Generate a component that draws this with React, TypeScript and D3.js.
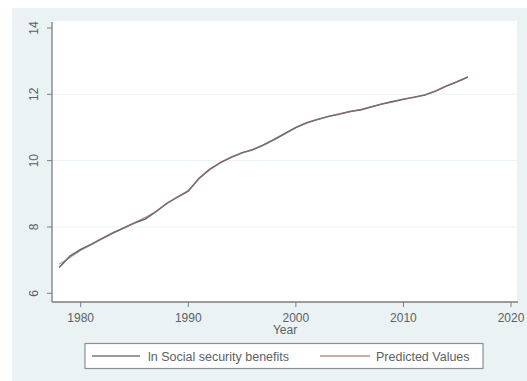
import React from "react";
import * as d3 from "d3";

const years: number[] = [
  1978, 1979, 1980, 1981, 1982, 1983, 1984, 1985, 1986, 1987, 1988, 1989, 1990,
  1991, 1992, 1993, 1994, 1995, 1996, 1997, 1998, 1999, 2000, 2001, 2002, 2003,
  2004, 2005, 2006, 2007, 2008, 2009, 2010, 2011, 2012, 2013, 2014, 2015, 2016,
];
const lnBenefits: number[] = [
  6.78, 7.12, 7.32, 7.48, 7.65, 7.82, 7.97, 8.12, 8.24, 8.46, 8.71, 8.9, 9.08,
  9.47, 9.74, 9.94, 10.1, 10.24, 10.33, 10.47, 10.64, 10.82, 11.0, 11.14, 11.24,
  11.33, 11.4, 11.48, 11.53, 11.62, 11.71, 11.78, 11.85, 11.91, 11.98, 12.1,
  12.25, 12.38, 12.52,
];
const predicted: number[] = [
  6.88, 7.08, 7.3, 7.47, 7.66, 7.83, 7.98, 8.13, 8.29, 8.47, 8.7, 8.91, 9.1,
  9.45, 9.73, 9.95, 10.11, 10.23, 10.34, 10.48, 10.65, 10.83, 11.0, 11.13,
  11.24, 11.33, 11.41, 11.47, 11.54, 11.63, 11.71, 11.78, 11.85, 11.92, 11.98,
  12.1, 12.25, 12.39, 12.53,
];
const xTicks: number[] = [1980, 1990, 2000, 2010, 2020];
const yTicks: number[] = [6, 8, 10, 12, 14];
const gridTicks: number[] = [8, 10, 12];
const xTitle = "Year";
const legendLabels: string[] = ["ln Social security benefits", "Predicted Values"];

const W = 527;
const H = 381;
const font = "'Liberation Sans', Arial, sans-serif";

export default function App() {
  const x = d3.scaleLinear().domain([1980, 2020]).range([80.7, 511]);
  const y = d3.scaleLinear().domain([6, 14]).range([293.3, 28]);
  const axisX0 = 52;
  const axisX1 = 518;
  const axisY = 302;
  const axisTop = 22;

  const line = d3
    .line<number>()
    .x((_, i) => x(years[i]))
    .y((d) => y(d))
    .curve(d3.curveLinear);

  const colors = ["#5e6977", "#9b6a6c"];
  const textColor = "#5c6165";
  const axisColor = "#797e82";

  return (
    <svg
      width={W}
      height={H}
      style={{ position: "absolute", left: 0, top: 0 }}
      fontFamily={font}
    >
      <rect x={0} y={0} width={W} height={H} fill="#ffffff" />
      <rect x={12} y={8} width={W - 12} height={H - 8} fill="#eaf2f3" />
      <rect x={axisX0} y={21} width={517 - axisX0} height={axisY - 21} fill="#ffffff" />
      {gridTicks.map((t) => (
        <line
          key={"g" + t}
          x1={axisX0}
          x2={517}
          y1={y(t)}
          y2={y(t)}
          stroke="#eaf2f3"
          strokeWidth={1}
        />
      ))}
      {/* axes */}
      <line x1={axisX0} x2={axisX0} y1={axisTop} y2={axisY} stroke={axisColor} strokeWidth={1.3} />
      <line x1={axisX0} x2={axisX1} y1={axisY} y2={axisY} stroke={axisColor} strokeWidth={1.3} />
      {yTicks.map((t) => (
        <g key={"y" + t}>
          <line x1={axisX0 - 5} x2={axisX0} y1={y(t)} y2={y(t)} stroke={axisColor} strokeWidth={1} />
          <text
            transform={`translate(37.5,${y(t)}) rotate(-90)`}
            textAnchor="middle"
            fontSize={12}
            fill={textColor}
          >
            {t}
          </text>
        </g>
      ))}
      {xTicks.map((t) => (
        <g key={"x" + t}>
          <line x1={x(t)} x2={x(t)} y1={axisY} y2={axisY + 5} stroke={axisColor} strokeWidth={1} />
          <text x={x(t)} y={322} textAnchor="middle" fontSize={12} fill={textColor}>
            {t}
          </text>
        </g>
      ))}
      <text x={(axisX0 + axisX1) / 2} y={334} textAnchor="middle" fontSize={12} fill={textColor}>
        {xTitle}
      </text>
      {/* data lines */}
      <path d={line(lnBenefits) || ""} fill="none" stroke={colors[0]} strokeWidth={1.6} />
      <path d={line(predicted) || ""} fill="none" stroke={colors[1]} strokeWidth={1.1} strokeOpacity={0.75} />
      {/* legend */}
      <rect x={85} y={343.5} width={398} height={25} fill="#ffffff" stroke="#8a8f93" strokeWidth={1.2} />
      <line x1={92} x2={140} y1={356} y2={356} stroke="#717a84" strokeWidth={1.4} />
      <text x={148} y={360.5} fontSize={12.5} fill={textColor}>
        {legendLabels[0]}
      </text>
      <line x1={320} x2={370} y1={356} y2={356} stroke="#bb918d" strokeWidth={1.4} />
      <text x={376} y={360.5} fontSize={12.5} fill={textColor}>
        {legendLabels[1]}
      </text>
    </svg>
  );
}
